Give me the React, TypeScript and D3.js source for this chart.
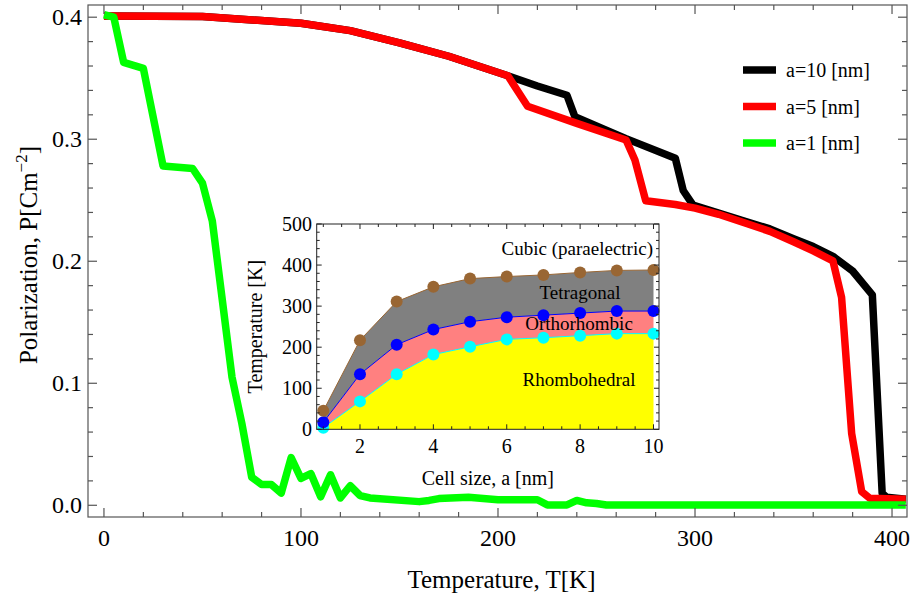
import React from 'react';
import * as d3 from 'd3';

// main plot: polarization vs temperature for three cell sizes
const tempA10 = [0, 50, 100, 125, 150, 175, 205, 220, 235, 239, 265, 290, 294, 299, 312, 325, 338, 350, 360, 370, 380, 390, 395, 397.3, 407];
const polA10 = [0.401, 0.4005, 0.395, 0.389, 0.379, 0.368, 0.352, 0.3436, 0.336, 0.3185, 0.3005, 0.2844, 0.258, 0.246, 0.2395, 0.233, 0.2265, 0.2185, 0.212, 0.204, 0.192, 0.1725, 0.0098, 0.0066, 0.0049];

const tempA5 = [0, 50, 100, 125, 150, 175, 205, 215, 240, 265, 269.5, 275, 290, 300, 312, 325, 338, 350, 360, 370, 374.4, 379.5, 384.6, 388.8, 407];
const polA5 = [0.401, 0.4005, 0.395, 0.389, 0.379, 0.368, 0.352, 0.327, 0.313, 0.2994, 0.283, 0.2495, 0.2465, 0.2435, 0.2385, 0.2315, 0.2245, 0.216, 0.2085, 0.2003, 0.1703, 0.059, 0.0112, 0.0057, 0.0049];

const tempA1 = [0, 5, 10, 20, 30, 45, 50, 55, 60, 65, 70, 75, 80, 85, 90, 95, 100, 105, 110, 115, 120, 125, 130, 135, 160, 165, 170, 185, 200, 220, 225, 235, 240, 245, 250, 255, 407];
const polA1 = [0.402, 0.4, 0.363, 0.358, 0.278, 0.276, 0.264, 0.233, 0.169, 0.105, 0.067, 0.023, 0.017, 0.017, 0.01, 0.039, 0.022, 0.026, 0.007, 0.025, 0.006, 0.016, 0.008, 0.006, 0.003, 0.004, 0.0055, 0.0065, 0.0045, 0.0045, 0.0003, 0.0003, 0.004, 0.002, 0.0015, 0.0003, 0.0003];

const seriesNames = ['a=10 [nm]', 'a=5 [nm]', 'a=1 [nm]'];
const seriesColors = ['#000000', '#ff0000', '#00ff00'];

const mainXTicks = [0, 100, 200, 300, 400];
const mainYTicks = [0, 0.1, 0.2, 0.3, 0.4];

// inset: phase diagram vs cell size
const cellSize = [1, 2, 3, 4, 5, 6, 7, 8, 9, 10];
const tCubic = [45, 217, 311, 347, 367, 372, 376, 382, 387, 388];
const tTetra = [17, 134, 206, 243, 262, 273, 278, 283, 288, 288];
const tOrtho = [4, 68, 134, 182, 201, 219, 223, 228, 233, 233];

const insetXTicks = [2, 4, 6, 8, 10];
const insetYTicks = [0, 100, 200, 300, 400, 500];

const serif = '"Liberation Serif", "Times New Roman", serif';

export default function App() {
  const x = d3.scaleLinear().domain([-8.1, 407.6]).range([88, 907]);
  const y = d3.scaleLinear().domain([-0.0096, 0.41]).range([517, 5]);

  const xi = d3.scaleLinear().domain([0.82, 10.15]).range([316.7, 659]);
  const yi = d3.scaleLinear().domain([0, 500]).range([429.3, 224]);

  const line = d3.line<[number, number]>().x(d => x(d[0])).y(d => y(d[1]));
  const toPts = (t: number[], p: number[]) => t.map((v, i) => [v, p[i]] as [number, number]);
  const series = [toPts(tempA10, polA10), toPts(tempA5, polA5), toPts(tempA1, polA1)];

  const xMinor = d3.range(0, 401, 20);
  const yMinor = d3.range(0, 0.41, 0.02);

  const iLine = (vals: number[]) => d3.line<number>().x((_, i) => xi(cellSize[i])).y(d => yi(d))(vals) as string;
  const iArea = (lo: number[] | null, hi: number[]) =>
    d3.area<number>()
      .x((_, i) => xi(cellSize[i]))
      .y0((_, i) => yi(lo ? lo[i] : 0))
      .y1(d => yi(d))(hi) as string;

  const ixMinor = d3.range(1, 10.01, 0.5);
  const iyMinor = d3.range(0, 501, 20);

  const [fx0, fx1] = x.range();
  const [fy0, fy1] = y.range(); // fy0 bottom, fy1 top
  const [ix0, ix1] = xi.range();
  const [iy0, iy1] = yi.range();

  return (
    <svg width={916} height={597} style={{ position: 'absolute', left: 0, top: 0, background: '#fff' }} fontFamily={serif}>
      <defs>
        <clipPath id="mainClip">
          <rect x={fx0} y={fy1} width={fx1 - fx0} height={fy0 - fy1} />
        </clipPath>
      </defs>

      {/* curves */}
      <g clipPath="url(#mainClip)" fill="none" strokeWidth={7.5} strokeLinejoin="round">
        {series.map((s, i) => (
          <path key={i} d={line(s) as string} stroke={seriesColors[i]} />
        ))}
      </g>

      {/* main frame + ticks */}
      <g stroke="#555" strokeWidth={1.2}>
        <rect x={fx0} y={fy1} width={fx1 - fx0} height={fy0 - fy1} fill="none" />
        {xMinor.map(v => {
          const len = v % 100 === 0 ? 9 : 5;
          return (
            <g key={'x' + v}>
              <line x1={x(v)} x2={x(v)} y1={fy0} y2={fy0 - len} />
              <line x1={x(v)} x2={x(v)} y1={fy1} y2={fy1 + len} />
            </g>
          );
        })}
        {yMinor.map((v, k) => {
          const len = k % 5 === 0 ? 9 : 5;
          return (
            <g key={'y' + k}>
              <line x1={fx0} x2={fx0 + len} y1={y(v)} y2={y(v)} />
              <line x1={fx1} x2={fx1 - len} y1={y(v)} y2={y(v)} />
            </g>
          );
        })}
      </g>
      <g fontSize={24} fill="#000">
        {mainXTicks.map(v => (
          <text key={v} x={x(v)} y={546} textAnchor="middle">{v}</text>
        ))}
        {mainYTicks.map(v => (
          <text key={v} x={82} y={y(v) + 8} textAnchor="end">{v.toFixed(1)}</text>
        ))}
      </g>
      <text x={(fx0 + fx1) / 2 + 4} y={588} fontSize={25} textAnchor="middle">Temperature, T[K]</text>
      <text transform={`translate(37, ${(fy0 + fy1) / 2 - 6}) rotate(-90)`} fontSize={25} textAnchor="middle">
        Polarization, P[Cm<tspan dy={-10} fontSize={17}>−2</tspan><tspan dy={10}>]</tspan>
      </text>

      {/* legend */}
      {seriesNames.map((n, i) => {
        const ly = 70 + i * 36.5;
        return (
          <g key={n}>
            <line x1={743} x2={776} y1={ly} y2={ly} stroke={seriesColors[i]} strokeWidth={7.5} />
            <text x={786} y={ly + 7} fontSize={20}>{n}</text>
          </g>
        );
      })}

      {/* inset */}
      <rect x={ix0} y={iy1} width={ix1 - ix0} height={iy0 - iy1} fill="#fff" />
      <path d={iArea(null, tOrtho)} fill="#ffff00" />
      <path d={iArea(tOrtho, tTetra)} fill="#ff8080" />
      <path d={iArea(tTetra, tCubic)} fill="#808080" />
      <path d={iLine(tOrtho)} fill="none" stroke="#00ffff" strokeWidth={1} />
      <path d={iLine(tTetra)} fill="none" stroke="#0000ff" strokeWidth={1} />
      <path d={iLine(tCubic)} fill="none" stroke="#996633" strokeWidth={1} />
      {tOrtho.map((v, i) => <circle key={'o' + i} cx={xi(cellSize[i])} cy={yi(v)} r={6} fill="#00ffff" />)}
      {tTetra.map((v, i) => <circle key={'t' + i} cx={xi(cellSize[i])} cy={yi(v)} r={6} fill="#0000ff" />)}
      {tCubic.map((v, i) => <circle key={'c' + i} cx={xi(cellSize[i])} cy={yi(v)} r={6} fill="#996633" />)}

      <g fontSize={19} fill="#000">
        <text x={653} y={255} textAnchor="end">Cubic (paraelectric)</text>
        <text x={580} y={299} textAnchor="middle">Tetragonal</text>
        <text x={579} y={330} textAnchor="middle">Orthorhombic</text>
        <text x={579} y={386} textAnchor="middle">Rhombohedral</text>
      </g>

      <g stroke="#222" strokeWidth={1}>
        <rect x={ix0} y={iy1} width={ix1 - ix0} height={iy0 - iy1} fill="none" />
        {ixMinor.map(v => {
          const len = v % 2 === 0 ? 5 : 3;
          return (
            <g key={'ix' + v}>
              <line x1={xi(v)} x2={xi(v)} y1={iy0} y2={iy0 - len} />
              <line x1={xi(v)} x2={xi(v)} y1={iy1} y2={iy1 + len} />
            </g>
          );
        })}
        {iyMinor.map(v => {
          const len = v % 100 === 0 ? 5 : 3;
          return (
            <g key={'iy' + v}>
              <line x1={ix0} x2={ix0 + len} y1={yi(v)} y2={yi(v)} />
              <line x1={ix1} x2={ix1 - len} y1={yi(v)} y2={yi(v)} />
            </g>
          );
        })}
      </g>
      <g fontSize={20} fill="#000">
        {insetXTicks.map(v => (
          <text key={v} x={xi(v)} y={453} textAnchor="middle">{v}</text>
        ))}
        {insetYTicks.map(v => (
          <text key={v} x={312} y={yi(v) + 7} textAnchor="end">{v}</text>
        ))}
      </g>
      <text x={(ix0 + ix1) / 2} y={485} fontSize={20} textAnchor="middle">Cell size, a [nm]</text>
      <text transform={`translate(262, ${(iy0 + iy1) / 2}) rotate(-90)`} fontSize={20} textAnchor="middle">Temperature [K]</text>
    </svg>
  );
}
